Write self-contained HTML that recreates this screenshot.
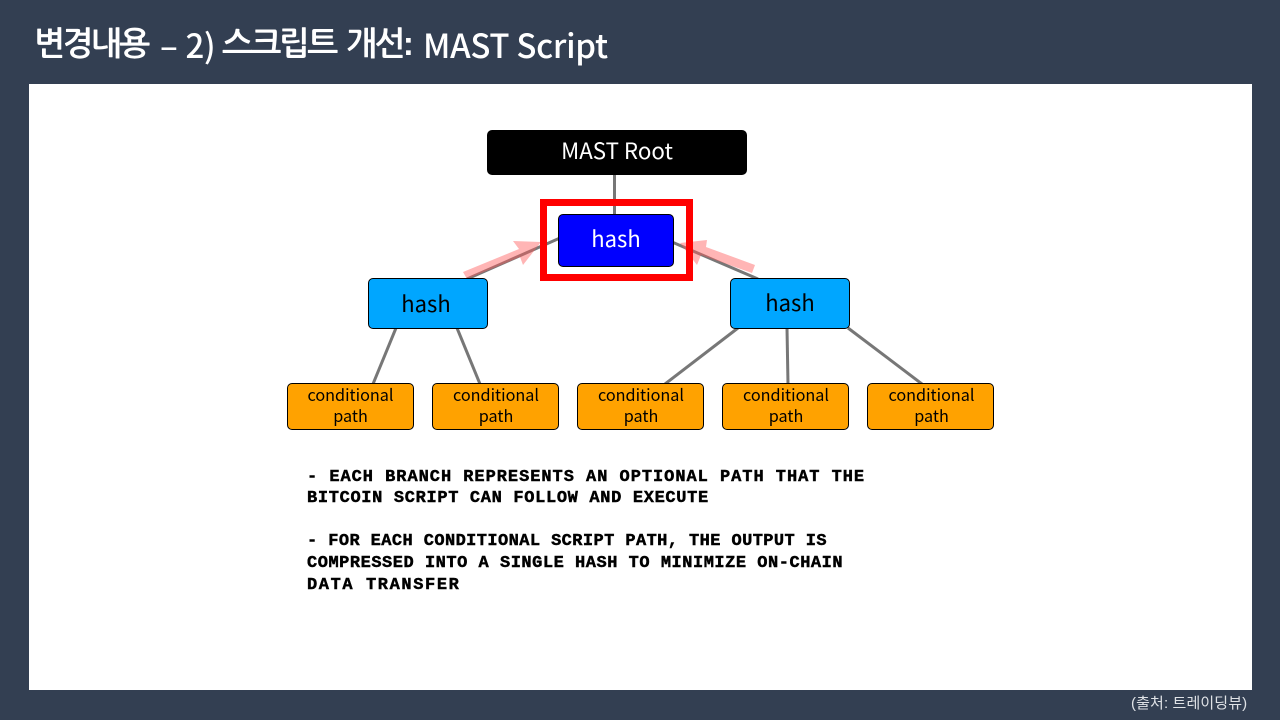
<!DOCTYPE html>
<html><head><meta charset="utf-8">
<style>
html,body{margin:0;padding:0;background:#333f52;}
body{width:1280px;height:720px;overflow:hidden;position:relative;font-family:"Liberation Sans","Noto Sans CJK KR",sans-serif;}
div{position:absolute;box-sizing:border-box;}
.title{top:20px;color:#fff;font-size:33px;font-weight:700;line-height:48px;white-space:nowrap;font-family:"Liberation Sans","NanumGothic","Noto Sans CJK KR",sans-serif;}
.tl{top:20px;color:#fff;font-size:33px;font-weight:500;line-height:48px;white-space:nowrap;font-family:"Noto Sans CJK KR",sans-serif;}
.panel{left:29px;top:84px;width:1223px;height:606px;background:#fff;}
.src{left:1131px;top:693px;color:#dfe2e6;font-size:15px;line-height:22px;white-space:nowrap;letter-spacing:.12px;}
.n{border:1px solid #000;border-radius:5px;display:flex;align-items:center;justify-content:center;text-align:center;font-family:"Noto Sans CJK KR",sans-serif;}
.o{background:#ffa200;width:127px;height:47px;top:383px;font-size:16.2px;line-height:21px;color:#000;padding-bottom:4px;}
.h{background:#00a6ff;color:#000;width:120px;height:51px;font-size:22px;}
.t{left:307px;font-family:"Liberation Mono",monospace;font-weight:700;font-size:17px;line-height:22px;color:#000;white-space:nowrap;-webkit-text-stroke:.45px #000;}
svg{position:absolute;left:0;top:0;}
</style></head><body>
<div class="title" style="left:34px;letter-spacing:-2.6px;">변경내용</div>
<div class="tl" style="left:160px;word-spacing:1px;letter-spacing:-.4px;">– 2)</div>
<div class="title" style="left:222px;letter-spacing:-2.6px;">스크립트</div>
<div class="title" style="left:346px;letter-spacing:-2.6px;">개선:</div>
<div class="tl" style="left:423px;letter-spacing:-.3px;">MAST Script</div>
<div class="panel"></div>
<div class="src">(출처: 트레이딩뷰)</div>
<svg width="1280" height="720">
<g stroke="#777" stroke-width="3" fill="none">
<line x1="614.5" y1="175" x2="614.5" y2="215"/>
<line x1="467" y1="279" x2="560" y2="238"/>
<line x1="672" y1="242" x2="758" y2="279"/>
<line x1="396" y1="328" x2="373" y2="384"/>
<line x1="457" y1="328" x2="480" y2="384"/>
<line x1="738" y1="328" x2="665" y2="384"/>
<line x1="787" y1="328" x2="788" y2="384"/>
<line x1="848" y1="328" x2="922" y2="384"/>
</g>
<g fill="#ff5a5a" fill-opacity=".45">
<polygon points="463,272 519,249 513,241 541,242 523,265 520,257 467,279"/>
<polygon points="755,265 706,247 707,240 680,243 697,265 701,255 752,273"/>
</g>
<rect x="543.5" y="202.500" width="146" height="75" fill="none" stroke="#ff0000" stroke-width="7"/>
</svg>
<div class="n" style="left:487px;top:130px;width:260px;height:45px;background:#000;color:#fff;font-size:22.3px;padding-bottom:6px;">MAST Root</div>
<div class="n" style="left:558px;top:214px;width:116px;height:53px;background:#0000ff;color:#fff;font-size:22px;padding-bottom:6px;">hash</div>
<div class="n h" style="left:368px;top:278px;padding-right:4px;padding-bottom:1px;">hash</div>
<div class="n h" style="left:730px;top:278px;padding-bottom:3px;">hash</div>
<div class="n o" style="left:287px;">conditional<br>path</div>
<div class="n o" style="left:432px;padding-left:1px;">conditional<br>path</div>
<div class="n o" style="left:577px;padding-left:1px;">conditional<br>path</div>
<div class="n o" style="left:722px;padding-left:1px;">conditional<br>path</div>
<div class="n o" style="left:867px;padding-left:2px;">conditional<br>path</div>
<div class="t" style="top:467px;letter-spacing:.96px;">- EACH BRANCH REPRESENTS AN OPTIONAL PATH THAT THE</div>
<div class="t" style="top:488px;letter-spacing:.66px;">BITCOIN SCRIPT CAN FOLLOW AND EXECUTE</div>
<div class="t" style="top:531px;letter-spacing:.41px;">- FOR EACH CONDITIONAL SCRIPT PATH, THE OUTPUT IS</div>
<div class="t" style="top:553px;letter-spacing:.52px;">COMPRESSED INTO A SINGLE HASH TO MINIMIZE ON-CHAIN</div>
<div class="t" style="top:575px;letter-spacing:1.6px;">DATA TRANSFER</div>
</body></html>
